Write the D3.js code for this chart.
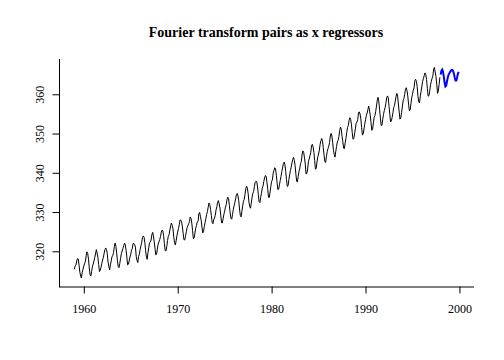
<!DOCTYPE html>
<html><head><meta charset="utf-8">
<script src="https://cdn.jsdelivr.net/npm/d3@7"></script>
<style>body{margin:0;background:#fff}</style>
</head><body>
<script>
const startYear = 1959;
const co2 = [
315.42,316.31,316.50,317.56,318.13,318.00,316.39,314.65,313.68,313.18,314.66,315.43,
316.27,316.81,317.42,318.87,319.87,319.43,318.01,315.74,314.00,313.68,314.84,316.03,
316.73,317.54,318.38,319.31,320.42,319.61,318.42,316.63,314.83,315.16,315.94,316.85,
317.78,318.40,319.53,320.42,320.85,320.45,319.45,317.25,316.11,315.27,316.53,317.53,
318.58,318.92,319.70,321.22,322.08,321.31,319.58,317.61,316.05,315.83,316.91,318.20,
319.41,320.07,320.74,321.40,322.06,321.73,320.27,318.54,316.54,316.71,317.53,318.55,
319.27,320.28,320.73,321.97,322.00,321.71,321.05,318.71,317.66,317.14,318.70,319.25,
320.46,321.43,322.23,323.54,323.91,323.59,322.24,320.20,318.48,317.94,319.63,320.87,
322.17,322.34,322.88,324.25,324.83,323.93,322.38,320.76,319.10,319.24,320.56,321.80,
322.40,322.99,323.73,324.86,325.40,325.20,323.98,321.95,320.18,320.09,321.16,322.74,
323.83,324.26,325.47,326.50,327.21,326.54,325.72,323.50,322.22,321.62,322.69,323.95,
324.89,325.82,326.77,327.97,327.91,327.50,326.18,324.53,322.93,322.90,323.85,324.96,
326.01,326.51,327.01,327.62,328.76,328.40,327.20,325.27,323.20,323.40,324.63,325.85,
326.60,327.47,327.58,329.56,329.90,328.92,327.88,326.16,324.68,325.04,326.34,327.39,
328.37,329.40,330.14,331.33,332.31,331.90,330.70,329.15,327.35,327.02,327.99,328.48,
329.18,330.55,331.32,332.48,332.92,332.08,331.01,329.23,327.27,327.21,328.29,329.41,
330.23,331.25,331.87,333.14,333.80,333.43,331.73,329.90,328.40,328.17,329.32,330.59,
331.58,332.39,333.33,334.41,334.71,334.17,332.89,330.77,329.14,328.78,330.14,331.52,
332.75,333.24,334.53,335.90,336.57,336.10,334.76,332.59,331.42,330.98,332.24,333.68,
334.80,335.22,336.47,337.59,337.84,337.72,336.37,334.51,332.60,332.38,333.75,334.78,
336.05,336.59,337.79,338.71,339.30,339.12,337.56,335.92,333.75,333.70,335.12,336.56,
337.84,338.19,339.91,340.60,341.29,341.00,339.39,337.43,335.72,335.84,336.93,338.04,
339.06,340.30,341.21,342.33,342.74,342.08,340.32,338.26,336.52,336.68,338.19,339.44,
340.57,341.44,342.53,343.39,343.96,343.18,341.88,339.65,337.81,337.69,339.09,340.32,
341.20,342.35,342.93,344.77,345.58,345.14,343.81,342.21,339.69,339.82,340.98,342.82,
343.52,344.33,345.11,346.88,347.25,346.62,345.22,343.11,340.90,341.18,342.80,344.04,
344.79,345.82,347.25,348.17,348.74,348.07,346.38,344.51,342.92,342.62,344.06,345.38,
346.11,346.78,347.68,349.37,350.03,349.37,347.76,345.73,344.68,343.99,345.48,346.72,
347.84,348.29,349.23,350.80,351.66,351.07,349.33,347.92,346.27,346.18,347.64,348.78,
350.25,351.54,352.05,353.41,354.04,353.62,352.22,350.27,348.55,348.72,349.91,351.18,
352.60,352.92,353.53,355.26,355.52,354.97,353.75,351.52,349.64,349.83,351.14,352.37,
353.50,354.55,355.23,356.04,357.00,356.07,354.67,352.76,350.82,351.04,352.69,354.07,
354.59,355.63,357.03,358.48,359.22,358.12,356.06,353.92,352.05,352.11,353.64,354.89,
355.88,356.63,357.72,359.07,359.58,359.17,356.94,354.92,352.94,353.23,354.09,355.33,
356.63,357.10,358.32,359.41,360.23,359.55,357.53,355.48,353.67,353.95,355.30,356.78,
358.34,358.89,359.95,361.25,361.67,360.94,359.55,357.49,355.84,356.00,357.59,359.05,
359.98,361.03,361.66,363.48,363.82,363.30,361.94,359.50,358.11,357.80,359.61,360.74,
362.09,363.29,364.06,364.76,365.45,365.01,363.70,361.54,359.51,359.65,360.80,362.38,
363.23,364.06,364.61,366.40,366.84,365.68,364.52,362.57,360.24,360.83,362.49,364.34
];
const forecastStart = 1998;
const forecast = [
365.0,366.0,366.3,365.8,364.5,363.0,362.0,362.2,363.2,364.2,364.9,365.3,
365.7,366.0,366.2,366.2,365.9,365.2,364.2,363.5,363.5,364.3,365.2,365.7
];
const xTicks = [1960,1970,1980,1990,2000];
const yTicks = [320,330,340,350,360];
const title = "Fourier transform pairs as x regressors";

const W = 504, H = 360;
const svg = d3.select("body").append("svg").attr("width", W).attr("height", H)
  .style("font-family", "'Liberation Serif', 'Times New Roman', serif");

const x = d3.scaleLinear().domain([1957.36, 2001.55]).range([59, 474]);
const y = d3.scaleLinear().domain([311.03, 368.99]).range([286.5, 59]);

const obs = co2.map((v, i) => ({t: startYear + i / 12, v}));
const fc = forecast.map((v, i) => ({t: forecastStart + i / 12, v}));
const line = d3.line().x(d => x(d.t)).y(d => y(d.v));

svg.append("path").datum(obs).attr("d", line)
  .attr("fill", "none").attr("stroke", "#000").attr("stroke-width", 1);
svg.append("path").datum(fc).attr("d", line)
  .attr("fill", "none").attr("stroke", "#0000FF").attr("stroke-width", 2);

// axes
const xAxis = d3.axisBottom(x).tickValues(xTicks).tickFormat(d3.format("d")).tickSize(7).tickPadding(11);
const gx = svg.append("g").attr("transform", "translate(0,286.5)").call(xAxis);
gx.select(".domain").attr("d", "M59,0.5H474");
gx.selectAll("text").attr("font-size", 12).attr("font-family", "'Liberation Serif', serif").attr("fill", "#000");

const yAxis = d3.axisLeft(y).tickValues(yTicks).tickSize(7).tickFormat(d3.format("d"));
const gy = svg.append("g").attr("transform", "translate(59.5,0)").call(yAxis);
gy.select(".domain").attr("d", "M0,59V287");
gy.selectAll("text").attr("font-size", 12).attr("font-family", "'Liberation Serif', serif").attr("fill", "#000")
  .attr("x", null).attr("dy", null)
  .attr("text-anchor", "middle")
  .attr("transform", "translate(-16,0) rotate(-90)");

svg.append("text").attr("x", 266).attr("y", 37).attr("text-anchor", "middle")
  .attr("font-weight", "bold").attr("font-size", 14).text(title);
</script>
</body></html>
